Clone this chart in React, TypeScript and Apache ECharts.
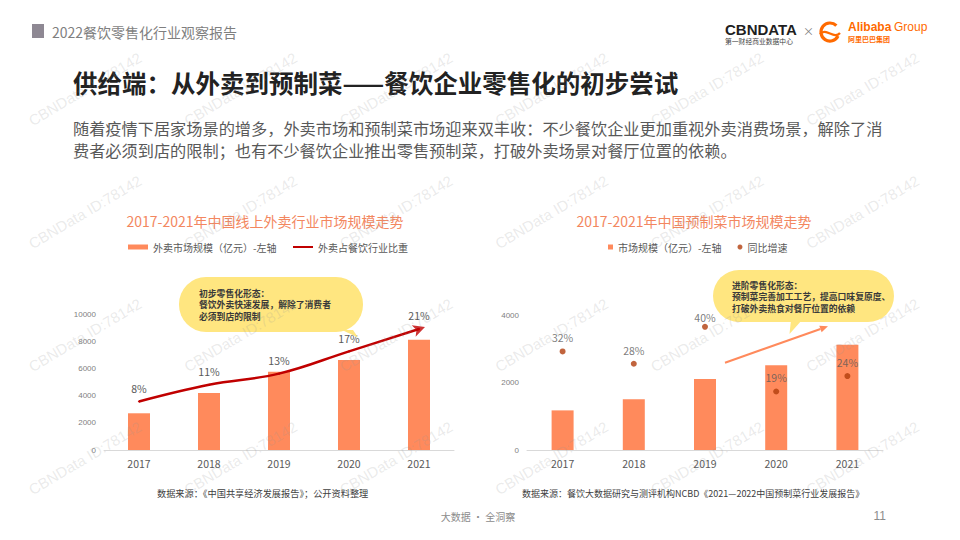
import React, { useEffect, useRef } from 'react';
import * as echarts from 'echarts';

const years = ['2017', '2018', '2019', '2020', '2021'];
const takeoutScale = [2700, 4200, 5750, 6620, 8100];
const takeoutShare = [8, 11, 13, 17, 21];
const prepScale = [1180, 1510, 2115, 2527, 3136];
const prepGrowth = [32, 28, 40, 19, 24];

const leftTitle = '2017-2021年中国线上外卖行业市场规模走势';
const rightTitle = '2017-2021年中国预制菜市场规模走势';
const barNameL = '外卖市场规模（亿元）-左轴';
const lineNameL = '外卖占餐饮行业比重';
const barNameR = '市场规模（亿元）-左轴';
const dotNameR = '同比增速';
const leftBubble = ['初步零售化形态：', '餐饮外卖快速发展，解除了消费者', '必须到店的限制'];
const rightBubble = ['进阶零售化形态：', '预制菜完善加工工艺，提高口味复原度、', '打破外卖热食对餐厅位置的依赖'];

const FONT = "'Noto Sans CJK SC', 'Noto Sans', sans-serif";
const LATIN = "'Liberation Sans', Arial, sans-serif";
const ORANGE = '#FF8A5C';
const TITLE_ORANGE = '#F3875F';
const DARKRED = '#C00000';
const DOT = '#B23D0C';
const YELLOW = '#FFE680';

function txt(x: number, y: number, text: string, size: number, color: string, opts: any = {}) {
  return {
    type: 'text',
    x,
    y,
    silent: true,
    z: opts.z ?? 10,
    rotation: opts.rotation ?? 0,
    style: {
      text,
      fill: color,
      fontSize: size,
      fontWeight: opts.weight ?? 'normal',
      fontFamily: opts.family ?? FONT,
      align: opts.align ?? 'left',
      textAlign: opts.align ?? 'left',
      verticalAlign: 'middle',
      textVerticalAlign: 'middle',
    },
  };
}

export default function App() {
  const ref = useRef<HTMLDivElement>(null);

  useEffect(() => {
    if (!ref.current) return;
    const chart = echarts.init(ref.current, null, { renderer: 'svg' });

    // watermarks
    const marks: any[] = [];
    for (let r = 0; r < 4; r++) {
      for (let c = 0; c < 6; c++) {
        marks.push(
          txt(85 + c * 155.5, 89 + r * 123, 'CBNData ID:78142', 15, 'rgba(150,150,150,0.2)', {
            align: 'center',
            rotation: 0.535,
            z: 100,
            family: LATIN,
          })
        );
      }
    }

    // right chart arrow
    const ax0 = 725, ay0 = 362.7, ax1 = 828, ay1 = 326.3;
    const len = Math.hypot(ax1 - ax0, ay1 - ay0);
    const ux = (ax1 - ax0) / len, uy = (ay1 - ay0) / len;
    const bx = ax1 - ux * 8, by = ay1 - uy * 8;
    const px = -uy * 3.5, py = ux * 3.5;

    const bubbleLinesL = leftBubble.map((t, i) =>
      txt(199, 293.6 + i * 11.3, t, 8.8, '#3A3A3A', { weight: 'bold', z: 21 })
    );
    const bubbleLinesR = rightBubble.map((t, i) =>
      txt(732, 285.5 + i * 11.3, t, 8.8, '#3A3A3A', { weight: 'bold', z: 21 })
    );

    const graphics: any[] = [
      // header
      { type: 'rect', silent: true, shape: { x: 32, y: 24, width: 12, height: 14 }, style: { fill: '#8E8893' } },
      txt(52, 31.5, '2022餐饮零售化行业观察报告', 14, '#7F7F7F'),
      // CBNDATA logo
      txt(725, 29, 'CBNDATA', 15, '#1F1F1F', { weight: 'bold', family: LATIN }),
      txt(725, 41, '第一财经商业数据中心', 6.8, '#444444'),
      txt(803, 31, '×', 11, '#808080'),
      // Alibaba logo
      {
        type: 'arc', silent: true,
        shape: { cx: 830, cy: 32, r: 9, startAngle: Math.PI * 0.15, endAngle: Math.PI * 1.75 },
        style: { stroke: '#FF6A00', lineWidth: 3.2, fill: null },
      },
      {
        type: 'bezierCurve', silent: true,
        shape: { x1: 820, y1: 34, x2: 840, y2: 33, cpx1: 826, cpy1: 27, cpx2: 834, cpy2: 40 },
        style: { stroke: '#FF6A00', lineWidth: 2.2, fill: null },
      },
      txt(848, 26.5, 'Alibaba', 12, '#FF6A00', { weight: 'bold', family: LATIN }),
      txt(894, 26.5, 'Group', 12, '#FF6A00', { family: LATIN }),
      txt(848, 38.5, '阿里巴巴集团', 7, '#FF6A00', { weight: 'bold' }),
      // title & body
      txt(73, 82, '供给端：从外卖到预制菜——餐饮企业零售化的初步尝试', 24.5, '#222222', { weight: 'bold' }),
      txt(73, 128, '随着疫情下居家场景的增多，外卖市场和预制菜市场迎来双丰收：不少餐饮企业更加重视外卖消费场景，解除了消', 16.2, '#595959'),
      txt(73, 150, '费者必须到店的限制；也有不少餐饮企业推出零售预制菜，打破外卖场景对餐厅位置的依赖。', 16.2, '#595959'),
      // chart titles
      txt(265, 220.5, leftTitle, 14, TITLE_ORANGE, { align: 'center' }),
      txt(694, 220.5, rightTitle, 14, TITLE_ORANGE, { align: 'center' }),
      // left bubble
      { type: 'rect', silent: true, z: 20, shape: { x: 179, y: 277, width: 184, height: 55, r: 27 }, style: { fill: YELLOW } },
      { type: 'polygon', silent: true, z: 20, shape: { points: [[342, 330], [353, 330], [358, 337.5]] }, style: { fill: YELLOW } },
      ...bubbleLinesL,
      // right bubble
      { type: 'rect', silent: true, z: 20, shape: { x: 713, y: 270, width: 181, height: 52, r: 26 }, style: { fill: YELLOW } },
      { type: 'polygon', silent: true, z: 20, shape: { points: [[791, 320], [802, 320], [789.5, 334]] }, style: { fill: YELLOW } },
      ...bubbleLinesR,
      // right arrow
      { type: 'line', silent: true, z: 15, shape: { x1: ax0, y1: ay0, x2: bx, y2: by }, style: { stroke: ORANGE, lineWidth: 2 } },
      {
        type: 'polygon', silent: true, z: 15,
        shape: { points: [[ax1, ay1], [bx + px, by + py], [bx - px, by - py]] },
        style: { fill: ORANGE },
      },
      // sources & footer
      txt(157, 493, '数据来源：《中国共享经济发展报告》；公开资料整理', 9.2, '#404040'),
      txt(522, 493, '数据来源：餐饮大数据研究与测评机构NCBD《2021—2022中国预制菜行业发展报告》', 9, '#404040'),
      txt(478, 516, '大数据 · 全洞察', 10, '#8C8C8C', { align: 'center' }),
      txt(886, 516, '11', 12, '#8C8C8C', { align: 'right', family: LATIN }),
      ...marks,
    ];

    const xAxisBase = (gridIndex: number) => ({
      gridIndex,
      type: 'category',
      data: years,
      axisLine: { lineStyle: { color: '#D9D9D9', width: 1 } },
      axisTick: { show: false },
      axisLabel: { color: '#595959', fontSize: 10.5, margin: 8, fontFamily: FONT },
    });

    const yLabel = {
      color: '#7F7F7F', fontSize: 8, margin: 8, fontFamily: LATIN,
      formatter: (v: number) => String(v),
    };

    const legendText = { color: '#595959', fontSize: 10, fontFamily: FONT };

    const option: any = {
      animation: false,
      backgroundColor: '#ffffff',
      textStyle: { fontFamily: FONT },
      grid: [
        { left: 104, top: 314, width: 350, height: 136 },
        { left: 527, top: 315.7, width: 356, height: 134.3 },
      ],
      xAxis: [xAxisBase(0), xAxisBase(1)],
      yAxis: [
        {
          gridIndex: 0, type: 'value', min: 0, max: 10000, interval: 2000,
          splitLine: { show: false }, axisLine: { show: false }, axisTick: { show: false },
          axisLabel: yLabel,
        },
        { gridIndex: 0, type: 'value', min: -0.7, max: 23.7, show: false, splitLine: { show: false } },
        {
          gridIndex: 1, type: 'value', min: 0, max: 4000, interval: 2000,
          splitLine: { show: false }, axisLine: { show: false }, axisTick: { show: false },
          axisLabel: yLabel,
        },
        { gridIndex: 1, type: 'value', min: 0, max: 43.6, show: false, splitLine: { show: false } },
      ],
      legend: [
        {
          data: [{ name: barNameL, icon: 'rect' }],
          left: 128, top: 242, padding: 0, itemWidth: 20, itemHeight: 5, selectedMode: false,
          textStyle: legendText,
        },
        {
          data: [{ name: lineNameL, icon: 'rect', itemStyle: { color: DARKRED } }],
          left: 293, top: 242, padding: 0, itemWidth: 20, itemHeight: 2, selectedMode: false,
          textStyle: legendText,
        },
        {
          data: [{ name: barNameR, icon: 'rect' }, { name: dotNameR, icon: 'circle' }],
          left: 608, top: 242, padding: 0, itemWidth: 5, itemHeight: 5, itemGap: 16, selectedMode: false,
          textStyle: legendText,
        },
      ],
      series: [
        {
          name: barNameL, type: 'bar', xAxisIndex: 0, yAxisIndex: 0,
          data: takeoutScale, barWidth: 22, itemStyle: { color: ORANGE },
        },
        {
          name: lineNameL, type: 'line', xAxisIndex: 0, yAxisIndex: 1,
          data: takeoutShare, smooth: 0.4, symbol: 'circle', symbolSize: 2, showSymbol: true,
          itemStyle: { color: DARKRED },
          lineStyle: { color: DARKRED, width: 2.5 },
          label: {
            show: true, position: 'top', distance: 7, formatter: '{c}%',
            color: '#595959', fontSize: 10.5, fontFamily: FONT,
          },
          z: 5,
        },
        {
          name: 'arrowHead', type: 'scatter', xAxisIndex: 0, yAxisIndex: 1,
          data: [[years.length - 1, takeoutShare[takeoutShare.length - 1]]],
          symbol: 'arrow', symbolSize: [9, 12], symbolRotate: -71, symbolOffset: [6, -2],
          itemStyle: { color: DARKRED }, silent: true, z: 6,
        },
        {
          name: barNameR, type: 'bar', xAxisIndex: 1, yAxisIndex: 2,
          data: prepScale, barWidth: 22, itemStyle: { color: ORANGE },
        },
        {
          name: dotNameR, type: 'scatter', xAxisIndex: 1, yAxisIndex: 3,
          data: prepGrowth.map((v) => (v === 40 ? { value: v, label: { distance: 1 } } : v)),
          symbol: 'circle', symbolSize: 6, itemStyle: { color: DOT },
          label: {
            show: true, position: 'top', distance: 5.5, formatter: '{c}%',
            color: '#595959', fontSize: 10.5, fontFamily: FONT,
          },
          z: 5,
        },
      ],
      graphic: graphics,
    };

    chart.setOption(option);
    return () => chart.dispose();
  }, []);

  return (
    <div
      ref={ref}
      style={{ position: 'fixed', left: 0, top: 0, width: 960, height: 540, background: '#fff' }}
    />
  );
}
